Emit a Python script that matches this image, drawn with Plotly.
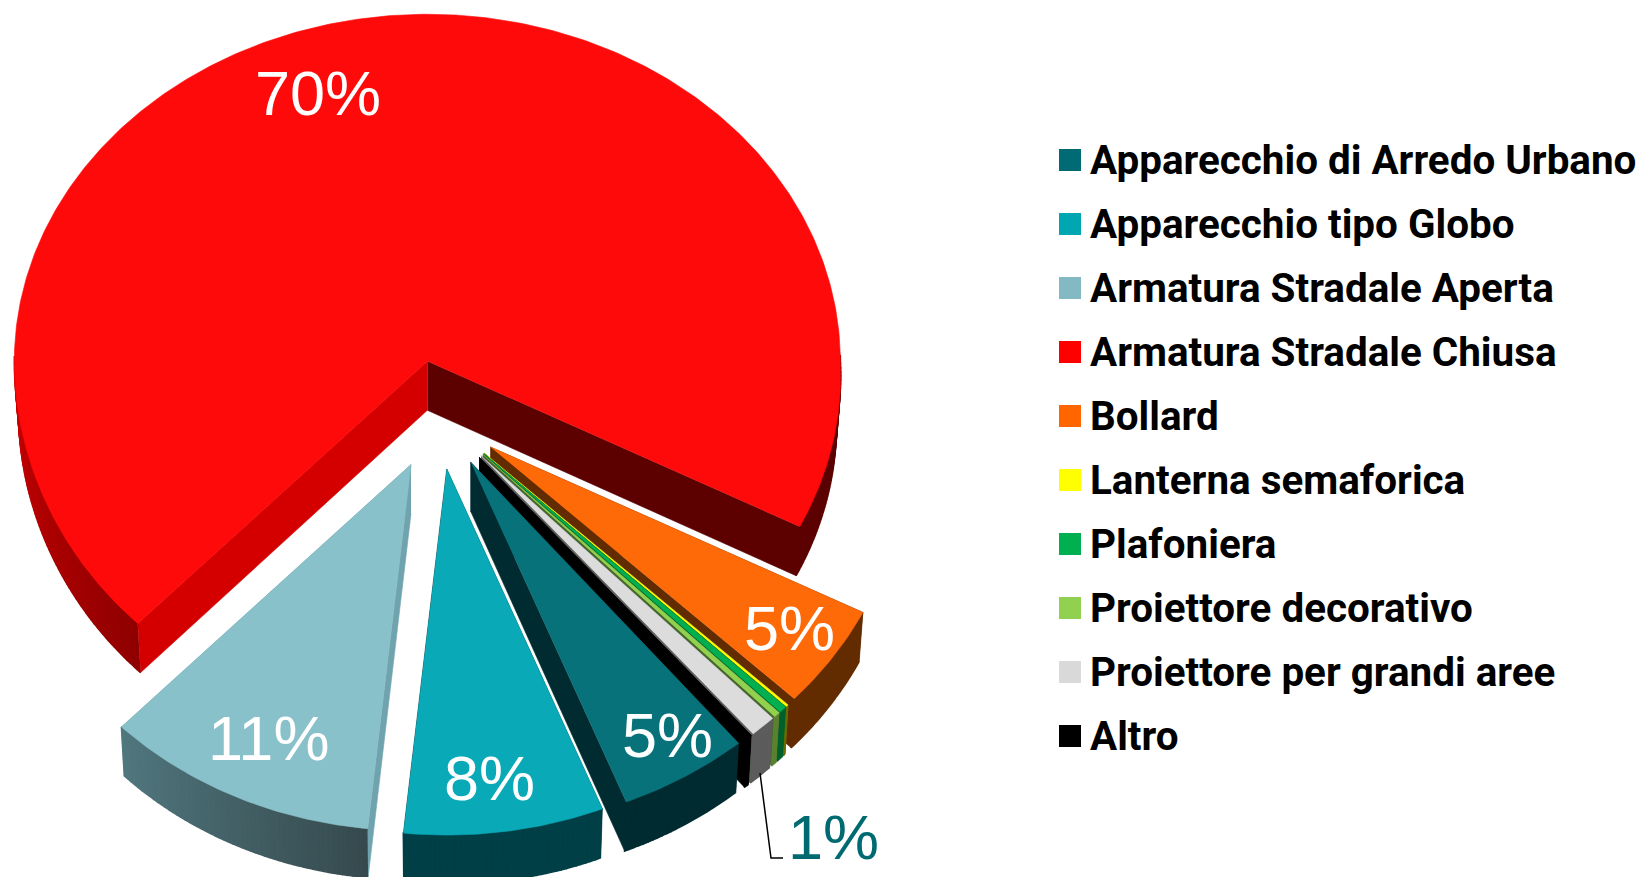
import numpy as np
import plotly.graph_objects as go

# ---- data ----
names = ["Apparecchio di Arredo Urbano", "Apparecchio tipo Globo", "Armatura Stradale Aperta",
         "Armatura Stradale Chiusa", "Bollard", "Lanterna semaforica", "Plafoniera",
         "Proiettore decorativo", "Proiettore per grandi aree", "Altro"]
values = [4.9, 7.5, 10.4, 70.4, 4.6, 0.1, 0.3, 0.25, 1.0, 0.2]
legend_colors = ["#006a75", "#00a6b2", "#83b9c3", "#ff0000", "#ff6600",
                 "#ffff00", "#00b050", "#92d050", "#d9d9d9", "#000000"]
top_colors = ["#08727b", "#09a9b7", "#89c1ca", "#ff0a0a", "#ff6a08",
              "#ffff00", "#00b050", "#92d050", "#dcdcdc", "#000000"]
# rim wall colour at the start / end of each slice, and the two cut faces
rim_from = ["#002b30", "#003f46", "#364a4e", "#900000", "#632c00", "#6b6b00", "#00602c", "#5a8230", "#5c5c5c", "#000000"]
rim_to = ["#002b30", "#003f46", "#50777e", "#5c0000", "#632c00", "#6b6b00", "#00602c", "#5a8230", "#5c5c5c", "#000000"]
cut_start = ["#002b30", "#003f46", "#6fa3ad", "#d40000", "#632c00", "#6b6b00", "#00602c", "#44662a", "#5c5c5c", "#000000"]
cut_end = ["#002b30", "#003f46", "#6fa3ad", "#5c0000", "#632c00", "#6b6b00", "#00602c", "#44662a", "#5c5c5c", "#000000"]

pct_labels = ["70%", "5%", "5%", "8%", "11%", "1%"]
pct_x = [318, 789, 667, 489, 268, 833]
pct_y = [93, 628, 735, 778, 738, 837]
pct_colors = ["white", "white", "white", "white", "white", "#006a71"]

# ---- pie geometry ----
CX, CY, RX, RY = 438, 415, 413, 347
PULL, DEPTH, START = 0.157, 49, 51.0
BOTTOM_SHRINK = 0.99
DRAW_ORDER = [3, 4, 5, 6, 7, 8, 9, 0, 2, 1]
# the big slice's outer wall brightens towards the far left, then falls into shadow
RED_INDEX = 3
RED_STOPS = [0.0, 0.19, 0.85, 1.0]
RED_COLORS = ["#900000", "#cc0000", "#5c0000", "#5c0000"]


def ell(theta, grow=True):
    t = np.radians(theta)
    s = np.sin(t)
    c = np.cos(t)
    pos = np.where(s > 0, s, 0)
    kx = 1 + 0.04 * np.where(c > 0, pos, pos ** 2) if grow else 1
    ky = 1 + 0.055 * pos if grow else 1
    return RX * c * kx, RY * s * ky


def rgb(h):
    return [int(h[i:i + 2], 16) for i in (1, 3, 5)]


def shade(stops, colors, f):
    cs = [rgb(c) for c in colors]
    return "#%02x%02x%02x" % tuple(round(float(np.interp(f, stops, [c[j] for c in cs]))) for j in range(3))


fig = go.Figure()


def poly(xs, ys, color, width=0.6):
    fig.add_trace(go.Scatter(x=list(xs), y=list(ys), mode="lines", fill="toself", fillcolor=color,
                             line=dict(color=color, width=width), hoverinfo="skip", showlegend=False))


scale = 360.0 / sum(values)
edges = START + np.concatenate([[0], np.cumsum(values)]) * scale

for i in DRAW_ORDER:
    a0, a1 = edges[i], edges[i + 1]
    mid = (a0 + a1) / 2
    px, py = ell(mid, grow=False)
    ax, ay = CX + PULL * px, CY + PULL * py
    th = np.linspace(a0, a1, max(6, int((a1 - a0) * 1.5)))
    ex, ey = ell(th)
    rx, ry = ax + ex, ay + ey
    bx = ax + ex * BOTTOM_SHRINK
    by = ry + DEPTH
    # cut faces
    poly([ax, rx[0], bx[0], ax], [ay, ry[0], by[0], ay + DEPTH], cut_start[i])
    poly([ax, rx[-1], bx[-1], ax], [ay, ry[-1], by[-1], ay + DEPTH], cut_end[i])
    # outer wall, facet by facet so the shade can change along it
    if i == RED_INDEX:
        stops, cols = RED_STOPS, RED_COLORS
    else:
        stops, cols = [0.0, 1.0], [rim_from[i], rim_to[i]]
    for k in range(len(th) - 1):
        if np.sin(np.radians((th[k] + th[k + 1]) / 2)) > -0.02:
            poly([rx[k], rx[k + 1], bx[k + 1], bx[k]], [ry[k], ry[k + 1], by[k + 1], by[k]],
                 shade(stops, cols, k / max(1, len(th) - 2)), width=1.6)
    # top face
    poly(np.r_[ax, rx], np.r_[ay, ry], top_colors[i])

# leader line of the 1% label
fig.add_trace(go.Scatter(x=[760, 771, 783], y=[773, 858, 858], mode="lines",
                         line=dict(color="black", width=1.5), hoverinfo="skip", showlegend=False))

for t, x, y, c in zip(pct_labels, pct_x, pct_y, pct_colors):
    fig.add_annotation(x=x, y=y, text=t, showarrow=False, xanchor="center", yanchor="middle",
                       font=dict(family="Liberation Sans", size=63, color=c))

# legend
LEG_Y0, LEG_STEP = 160, 64
TEXT_SHIFT = 4
leg_y = [LEG_Y0 + LEG_STEP * k for k in range(len(names))]
fig.add_trace(go.Scatter(x=[1070] * len(names), y=leg_y, mode="markers", hoverinfo="skip", showlegend=False,
                         marker=dict(symbol="square", size=22, color=legend_colors, line=dict(width=0))))
fig.add_trace(go.Scatter(x=[1090] * len(names), y=[v + TEXT_SHIFT for v in leg_y], mode="text", text=names,
                         textposition="middle right", hoverinfo="skip", showlegend=False,
                         textfont=dict(family="Roboto", size=40.4, color="black", weight=700)))

fig.update_layout(width=1643, height=877, margin=dict(l=0, r=0, t=0, b=0),
                  paper_bgcolor="white", plot_bgcolor="white", showlegend=False,
                  xaxis=dict(range=[0, 1643], visible=False, fixedrange=True),
                  yaxis=dict(range=[877, 0], visible=False, fixedrange=True))
fig.write_html("out.html", post_script="document.body.style.margin='0';", config={"displayModeBar": False})
